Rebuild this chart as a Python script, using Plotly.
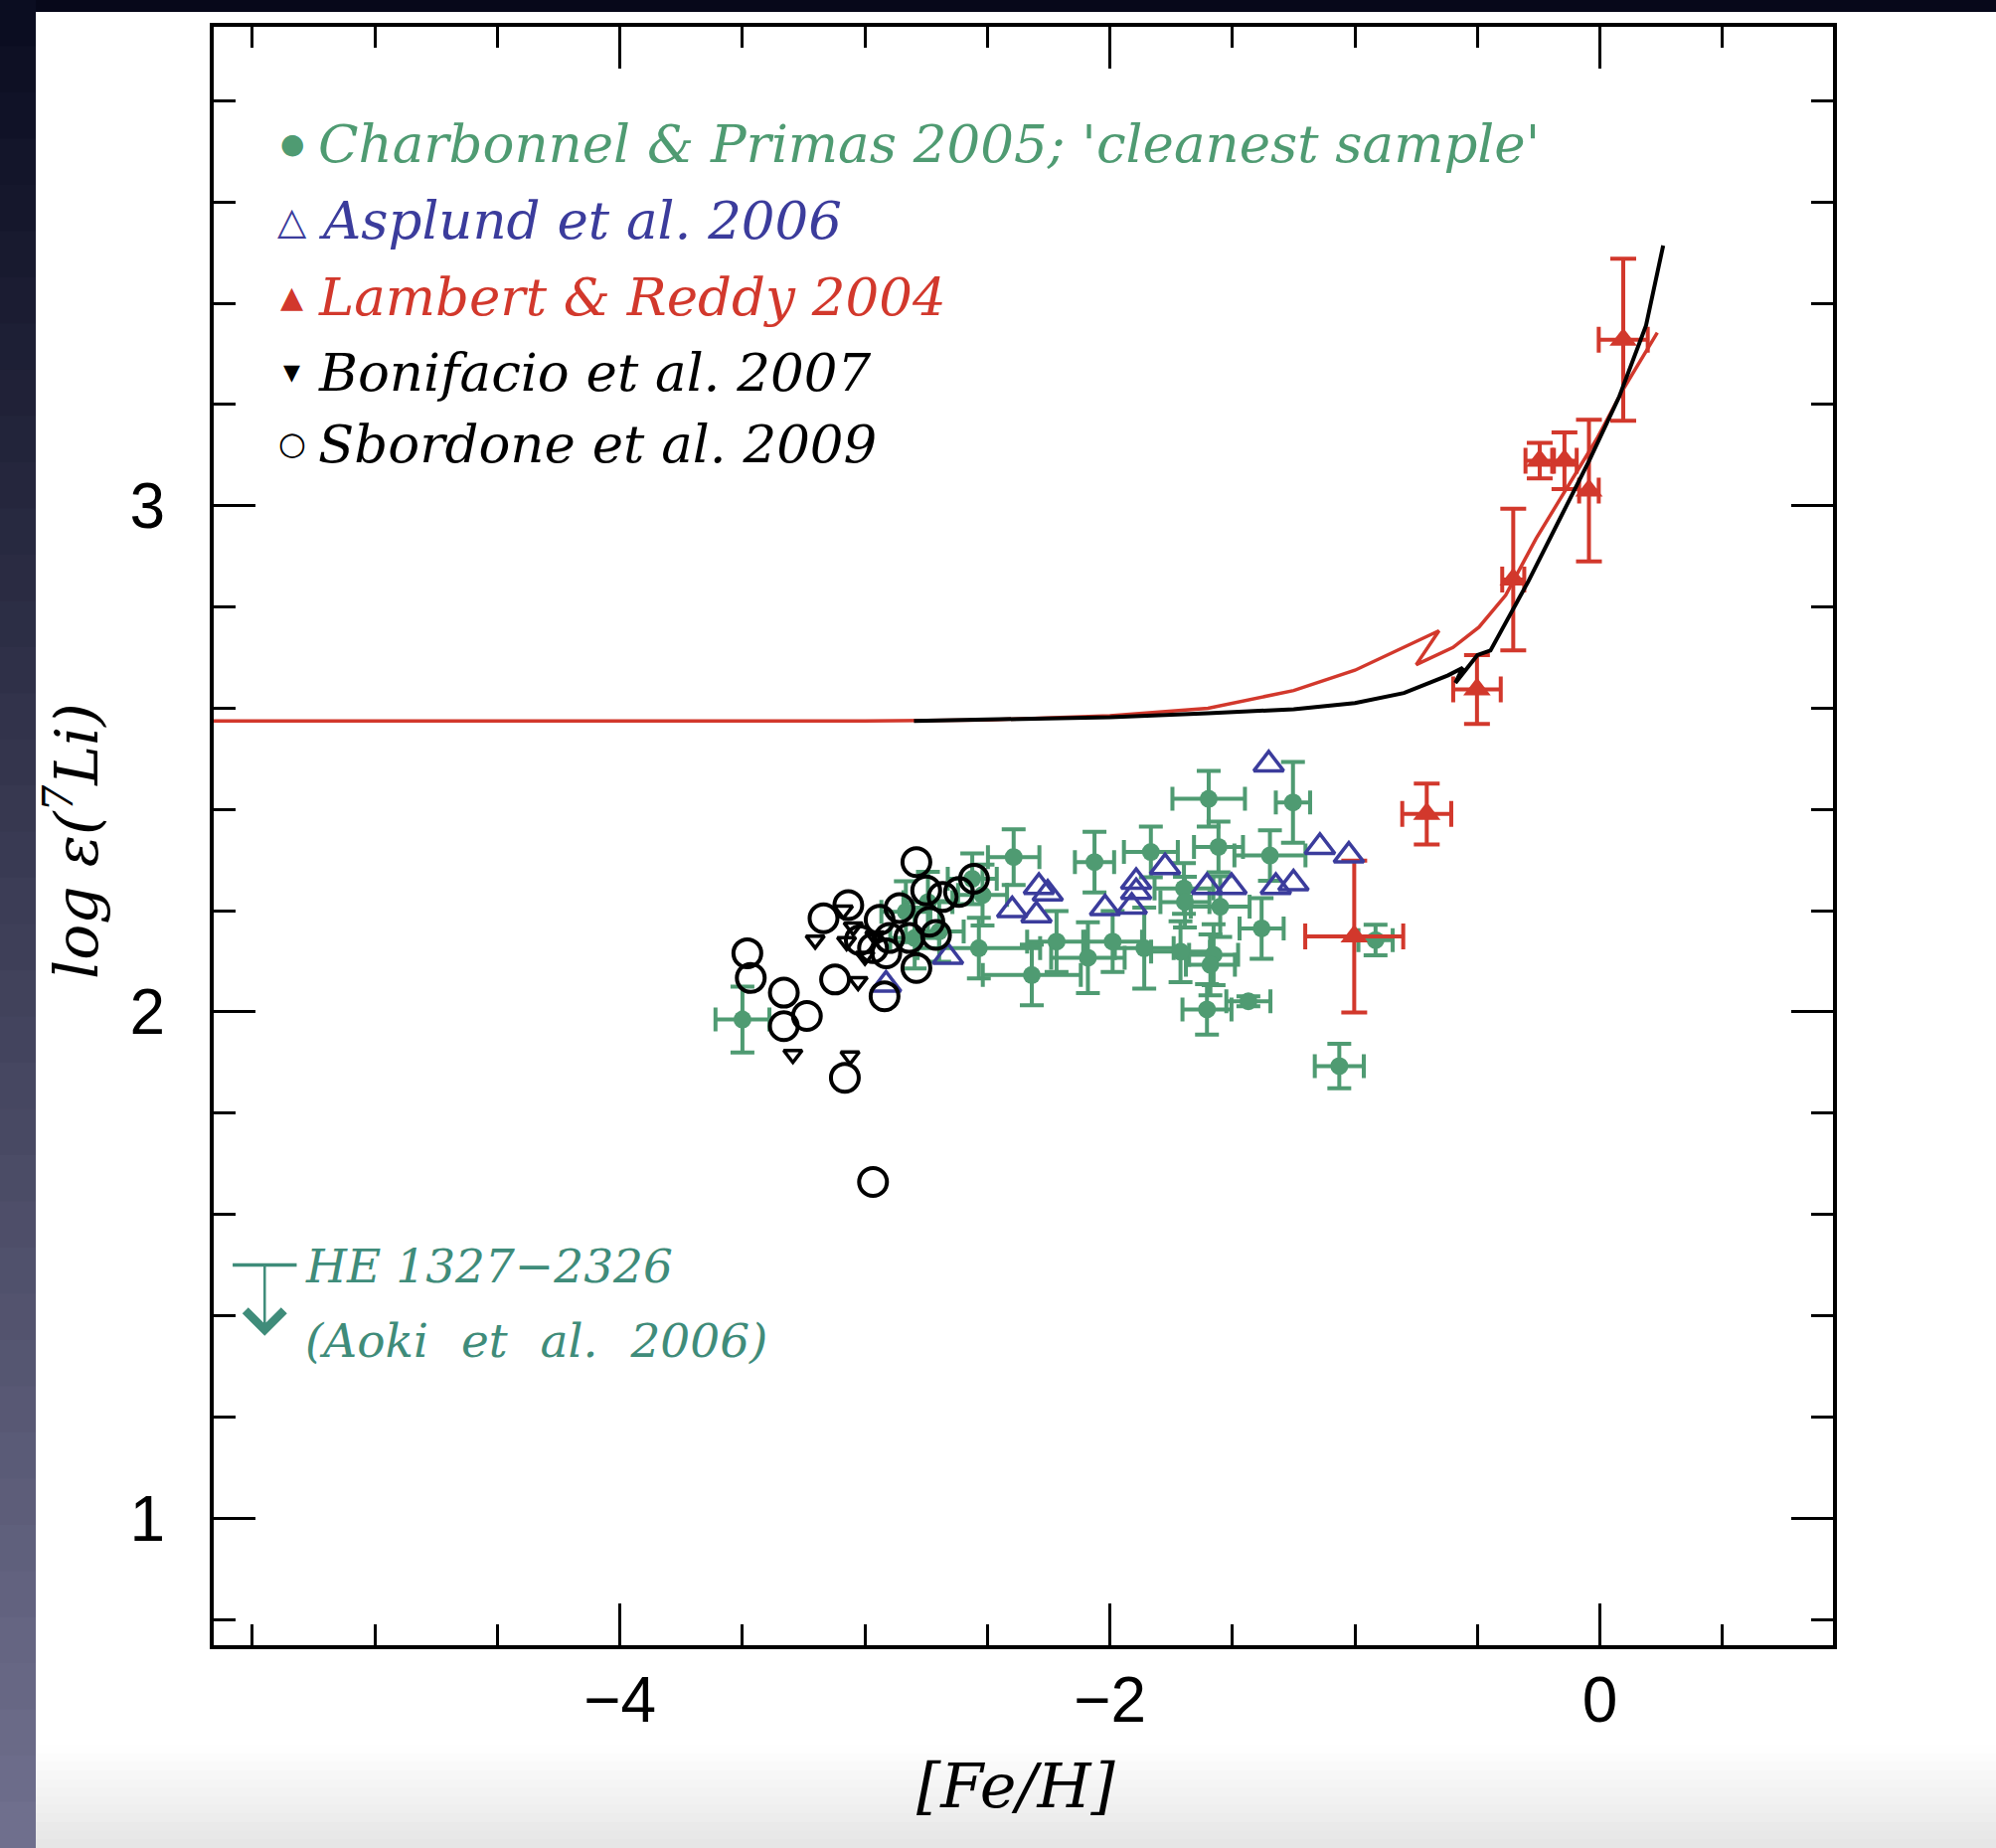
import plotly.graph_objects as go

# ---------------- data ----------------
# Charbonnel & Primas 2005 'cleanest sample'
cp_feh = [-3.50, -2.393, -2.535, -2.319, -2.218, -2.063, -2.09, -1.833, -1.989, -1.86,
          -1.597, -1.253, -1.557, -1.347, -1.698, -1.55, -1.381, -1.712, -1.577, -1.59,
          -1.604, -1.435, -1.064, -0.916, -2.52, -2.833, -2.743, -2.562, -2.797, -2.697,
          -1.694]
cp_li = [1.985, 2.306, 2.126, 2.073, 2.139, 2.296, 2.107, 2.316, 2.139, 2.126,
         2.421, 2.414, 2.326, 2.309, 2.244, 2.208, 2.165, 2.119, 2.113, 2.093,
         2.005, 2.021, 1.893, 2.142, 2.231, 2.198, 2.217, 2.263, 2.146, 2.159,
         2.217]
cp_efeh = [0.11, 0.105, 0.25, 0.20, 0.12, 0.08, 0.15, 0.11, 0.12, 0.12,
           0.148, 0.07, 0.10, 0.145, 0.12, 0.12, 0.09, 0.12, 0.10, 0.10,
           0.10, 0.09, 0.10, 0.07, 0.10, 0.10, 0.10, 0.10, 0.10, 0.10,
           0.10]
cp_eli = [0.065, 0.055, 0.06, 0.06, 0.06, 0.06, 0.07, 0.05, 0.06, 0.08,
          0.055, 0.08, 0.05, 0.05, 0.05, 0.06, 0.06, 0.06, 0.06, 0.06,
          0.05, 0.01, 0.044, 0.03, 0.06, 0.06, 0.06, 0.05, 0.06, 0.06,
          0.05]

# Asplund et al. 2006
asp_feh = [-2.29, -2.254, -2.399, -2.30, -2.661, -2.914, -1.893, -1.893, -1.911, -2.02,
           -1.775, -1.604, -1.504, -1.323, -1.251, -1.143, -1.025, -1.352]
asp_li = [2.247, 2.234, 2.201, 2.191, 2.109, 2.054, 2.257, 2.237, 2.208, 2.205,
          2.286, 2.247, 2.247, 2.247, 2.254, 2.326, 2.309, 2.489]

# Lambert & Reddy 2004
lr_feh = [-1.003, -0.707, -0.502, -0.354, -0.246, -0.145, -0.045, 0.095]
lr_li = [2.149, 2.391, 2.637, 2.854, 3.089, 3.089, 3.030, 3.328]
lr_efeh = [0.20, 0.10, 0.097, 0.045, 0.058, 0.05, 0.04, 0.10]
lr_eli = [0.15, 0.06, 0.068, 0.14, 0.035, 0.056, 0.14, 0.16]

# Bonifacio et al. 2007
bon_feh = [-3.203, -3.294, -3.028, -3.061, -3.088, -3.048, -3.075, -2.96, -3.0]
bon_li = [2.142, 1.916, 2.060, 1.913, 2.201, 2.168, 2.139, 2.150, 2.110]

# Sbordone et al. 2009
sb_feh = [-2.79, -3.48, -3.466, -3.169, -3.068, -3.331, -3.237, -3.331, -3.122, -3.082,
          -2.967, -2.92, -2.94, -3.021, -2.967, -2.913, -2.79, -2.75, -2.683, -2.616,
          -2.555, -2.737, -2.71, -2.859, -2.819, -2.90]
sb_li = [2.296, 2.116, 2.067, 2.185, 2.211, 2.038, 1.992, 1.972, 2.064, 1.870,
         1.664, 2.031, 2.182, 2.142, 2.126, 2.116, 2.087, 2.240, 2.227, 2.237,
         2.263, 2.178, 2.152, 2.205, 2.146, 2.146]

# Galactic chemical evolution models
red_model_feh = [-5.66, -3.0, -2.5, -2.0, -1.6, -1.25, -1.0, -0.8, -0.657, -0.75,
                 -0.6, -0.494, -0.385, -0.261, -0.137, -0.013, 0.095, 0.234]
red_model_li = [2.575, 2.575, 2.577, 2.585, 2.60, 2.635, 2.675, 2.72, 2.753, 2.686,
                2.72, 2.76, 2.823, 2.935, 3.033, 3.132, 3.23, 3.342]
black_model_feh = [-2.8, -2.0, -1.6, -1.25, -1.0, -0.8, -0.62, -0.56, -0.59, -0.5,
                   -0.447, -0.354, -0.292, -0.168, -0.044, 0.079, 0.188, 0.258]
black_model_li = [2.575, 2.582, 2.59, 2.598, 2.61, 2.63, 2.665, 2.68, 2.65, 2.705,
                  2.714, 2.795, 2.851, 2.97, 3.089, 3.216, 3.356, 3.514]

# HE 1327-2326 upper limit (Aoki et al. 2006)
he_feh = -5.45
he_li_limit = 1.50

x_major = [-4, -2, 0]
y_major = [1, 2, 3]

# ---------------- styling ----------------
GREEN = "#4f9b72"
BLUE = "#3b3c9c"
RED = "#d2382c"
TEAL = "#3f8c7a"
SERIF = "DejaVu Serif"

W, H = 2008, 1859
L, R, T, B = 215, 1844, 27, 1655
XR = [-5.658, 0.951]
YR = [0.749, 3.946]


def px(X):
    return (X - L) / (R - L)


def py(Y):
    return (B - Y) / (B - T)


fig = go.Figure()

fig.add_trace(go.Scatter(
    x=cp_feh, y=cp_li, mode="markers", showlegend=False,
    marker=dict(symbol="circle", size=18, color=GREEN),
    error_x=dict(type="data", array=cp_efeh, color=GREEN, thickness=4, width=12),
    error_y=dict(type="data", array=cp_eli, color=GREEN, thickness=4, width=12),
))
fig.add_trace(go.Scatter(
    x=lr_feh, y=lr_li, mode="markers", showlegend=False,
    marker=dict(symbol="triangle-up", size=24, color=RED),
    error_x=dict(type="data", array=lr_efeh, color=RED, thickness=4, width=13),
    error_y=dict(type="data", array=lr_eli, color=RED, thickness=4, width=13),
))
fig.add_trace(go.Scatter(
    x=asp_feh, y=asp_li, mode="markers", showlegend=False,
    marker=dict(symbol="triangle-up-open", size=26, color=BLUE, line=dict(width=3.5, color=BLUE)),
))
fig.add_trace(go.Scatter(
    x=sb_feh, y=sb_li, mode="markers", showlegend=False,
    marker=dict(symbol="circle-open", size=28, color="black", line=dict(width=4, color="black")),
))
fig.add_trace(go.Scatter(
    x=bon_feh, y=bon_li, mode="markers", showlegend=False,
    marker=dict(symbol="triangle-down-open", size=16, color="black", line=dict(width=3.5, color="black")),
))
fig.add_trace(go.Scatter(
    x=red_model_feh, y=red_model_li, mode="lines", showlegend=False,
    line=dict(color=RED, width=3.5),
))
fig.add_trace(go.Scatter(
    x=black_model_feh, y=black_model_li, mode="lines", showlegend=False,
    line=dict(color="black", width=4),
))
# HE 1327-2326 upper-limit bar
fig.add_trace(go.Scatter(
    x=[he_feh], y=[he_li_limit], mode="markers", showlegend=False,
    marker=dict(symbol="line-ew-open", size=46, color=TEAL, line=dict(width=3.5, color=TEAL)),
))
# dummy trace for the mirrored frame axes
fig.add_trace(go.Scatter(x=[None], y=[None], xaxis="x2", yaxis="y2",
                         showlegend=False, hoverinfo="skip"))

# upper limit arrow
fig.add_annotation(x=he_feh, y=he_li_limit - 0.14, ax=he_feh, ay=he_li_limit,
                   xref="x", yref="y", axref="x", ayref="y", text="",
                   showarrow=True, arrowhead=4, arrowsize=3, arrowwidth=2.5,
                   arrowcolor=TEAL)
SP = "\u2002\u2009"
fig.add_annotation(x=-5.293, y=1.498, xref="x", yref="y", xanchor="left", yanchor="middle",
                   text="<i>HE 1327−2326</i>", showarrow=False,
                   font=dict(family=SERIF, size=47, color=TEAL))
fig.add_annotation(x=-5.293, y=1.35, xref="x", yref="y", xanchor="left", yanchor="middle",
                   text="<i>(Aoki" + SP + "et" + SP + "al." + SP + "2006)</i>", showarrow=False,
                   font=dict(family=SERIF, size=47, color=TEAL))

# legend built from text
legend_rows = [
    ("●", 28, "Charbonnel & Primas 2005; 'cleanest sample'", GREEN, 3.715),
    ("△", 38, "Asplund et al. 2006", BLUE, 3.564),
    ("▲", 30, "Lambert & Reddy 2004", RED, 3.413),
    ("▼", 22, "Bonifacio et al. 2007", "black", 3.264),
    ("○", 32, "Sbordone et al. 2009", "black", 3.123),
]
for glyph, gsize, label, col, yy in legend_rows:
    fig.add_annotation(x=-5.339, y=yy, xref="x", yref="y", xanchor="center", yanchor="middle",
                       text=glyph, showarrow=False,
                       font=dict(family="DejaVu Sans", size=gsize, color=col))
    fig.add_annotation(x=-5.24, y=yy, xref="x", yref="y", xanchor="left", yanchor="middle",
                       text="<i>" + label + "</i>", showarrow=False,
                       font=dict(family=SERIF, size=53, color=col))

# axis titles
fig.add_annotation(x=px(73), y=py(846), xref="paper", yref="paper", textangle=-90,
                   xanchor="center", yanchor="middle",
                   text="<i>log ε(<sup>7</sup>Li)</i>", showarrow=False,
                   font=dict(family=SERIF, size=60, color="black"))
fig.add_annotation(x=px(1022), y=py(1797), xref="paper", yref="paper",
                   xanchor="center", yanchor="middle",
                   text="<i>[Fe/H]</i>", showarrow=False,
                   font=dict(family=SERIF, size=62, color="black"))

# background: slide panel
shapes = []
shapes.append(dict(type="rect", xref="paper", yref="paper", x0=px(0), x1=px(W), y0=py(12), y1=py(0),
                   fillcolor="#07081a", line=dict(width=0), layer="below"))
n = 40
c0 = (10, 12, 32)
c1 = (112, 112, 142)
for i in range(n):
    y0 = i * H / n
    y1 = (i + 1) * H / n + 3
    t = (i + 0.5) / n
    c = tuple(int(round(c0[k] + (c1[k] - c0[k]) * t)) for k in range(3))
    shapes.append(dict(type="rect", xref="paper", yref="paper", x0=px(0), x1=px(36),
                       y0=py(y1), y1=py(y0), fillcolor="rgb(%d,%d,%d)" % c,
                       line=dict(width=0), layer="below"))
m = 12
for i in range(m):
    y0 = 1755 + i * (H - 1755) / m
    y1 = 1755 + (i + 1) * (H - 1755) / m + 2
    t = (i + 0.5) / m
    g = int(round(255 - 26 * t))
    shapes.append(dict(type="rect", xref="paper", yref="paper", x0=px(36), x1=px(W),
                       y0=py(y1), y1=py(y0), fillcolor="rgb(%d,%d,%d)" % (g, g, g),
                       line=dict(width=0), layer="below"))

axis_common = dict(showgrid=False, zeroline=False, showline=True, linecolor="black",
                   linewidth=4, ticks="inside", tickcolor="black", tickwidth=3)

fig.update_layout(
    width=W, height=H, autosize=False,
    margin=dict(l=L, r=W - R, t=T, b=H - B, pad=0),
    paper_bgcolor="white", plot_bgcolor="white",
    showlegend=False,
    shapes=shapes,
    xaxis=dict(range=XR, tickmode="array", tickvals=x_major, ticklen=42,
               minor=dict(dtick=0.5, tick0=0, ticks="inside", ticklen=21, tickwidth=3, tickcolor="black"),
               tickfont=dict(family="Liberation Sans", size=64, color="black"),
               ticklabelstandoff=-4, **axis_common),
    yaxis=dict(range=YR, tickmode="array", tickvals=y_major, ticklen=42,
               minor=dict(dtick=0.2, tick0=0, ticks="inside", ticklen=22, tickwidth=3, tickcolor="black"),
               tickfont=dict(family="Liberation Sans", size=64, color="black"),
               ticklabelstandoff=32, **axis_common),
    xaxis2=dict(range=XR, overlaying="x", side="top", anchor="y", tickmode="array",
                tickvals=x_major, ticklen=42, showticklabels=False,
                minor=dict(dtick=0.5, tick0=0, ticks="inside", ticklen=21, tickwidth=3, tickcolor="black"),
                **axis_common),
    yaxis2=dict(range=YR, overlaying="y", side="right", anchor="x", tickmode="array",
                tickvals=y_major, ticklen=42, showticklabels=False,
                minor=dict(dtick=0.2, tick0=0, ticks="inside", ticklen=22, tickwidth=3, tickcolor="black"),
                **axis_common),
)

fig.write_html("out.html")
